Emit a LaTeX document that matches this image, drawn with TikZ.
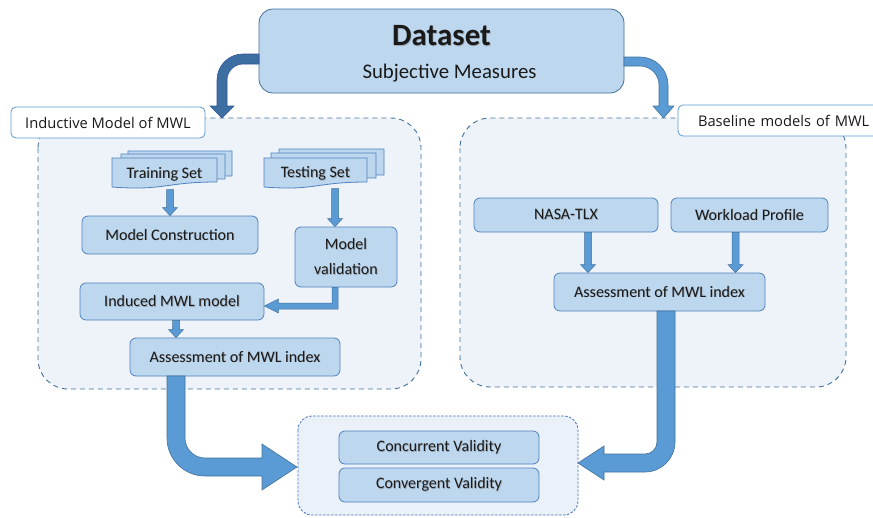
\documentclass[tikz,border=0pt]{standalone}
\usepackage{fontspec}
\setmainfont{Carlito}
\newfontfamily\labfont{Open Sans}
\usetikzlibrary{calc}

\definecolor{boxfill}{HTML}{BDD7EE}
\definecolor{boxline}{HTML}{4F81BD}
\definecolor{panelfill}{HTML}{EEF3FA}
\definecolor{panelline}{HTML}{41719C}
\definecolor{arrowfill}{HTML}{5B9BD5}
\definecolor{arrowline}{HTML}{41719C}
\definecolor{darkarrow}{HTML}{3E6FA3}
\definecolor{darkarrowline}{HTML}{2F5597}
\definecolor{txt}{HTML}{1A1A1A}
\definecolor{txtshadow}{HTML}{9AA7B4}
\definecolor{resultline}{HTML}{4472C4}
\definecolor{resultfill}{HTML}{EAF1F9}

% text with a soft drop shadow, as used on the box captions
\newcommand\shd[1]{\leavevmode\rlap{\kern0.7pt\raisebox{-0.7pt}{\textcolor{txtshadow}{#1}}}#1}

\tikzset{
  box/.style={draw=boxline, fill=boxfill, rounded corners=6pt, line width=0.8pt,
    text=txt, inner sep=0pt, font=\fontsize{16}{18}\selectfont, align=center},
  panel/.style={draw=panelline, fill=panelfill, line width=0.9pt,
    dash pattern=on 5pt off 4pt, rounded corners=30pt},
  resultpanel/.style={draw=resultline, fill=resultfill, line width=0.8pt,
    dash pattern=on 2.5pt off 1.5pt, rounded corners=14pt},
  tag/.style={draw=arrowfill, fill=white, rounded corners=5pt, line width=0.8pt,
    inner sep=0pt, text=txt, font=\labfont\fontsize{14.7}{16}\selectfont},
  sheet/.style={draw=boxline, fill=boxfill, line width=0.8pt},
  smallarrow/.style={fill=arrowfill, draw=arrowline, line width=0.5pt, line join=miter},
  bigarrow/.style={fill=arrowfill, draw=arrowline, line width=0.6pt},
  topleftarrow/.style={fill=darkarrow, draw=darkarrowline, line width=0.6pt},
  doclabel/.style={inner sep=0pt, text=txt, font=\fontsize{16}{18}\selectfont},
}

% one sheet of a document stack, with the wavy lower edge
\newcommand\docsheet[4]{%
  \path[sheet] (#1,#2) -- (#3,#2) -- (#3,#4)
    .. controls ({(#1+#3)/2},#4) and ({(#1+#3)/2},#4+9) .. (#1,#4+5) -- cycle;}

% narrow downward block arrow between two points (x taken from the first)
\newcommand\smalldown[2]{%
  \path[smallarrow] let \p1=(#1), \p2=(#2) in
    (\x1-3.5pt,\y1) -- (\x1+3.5pt,\y1) -- (\x1+3.5pt,\y2+8pt) -- (\x1+7.5pt,\y2+8pt)
    -- (\x1,\y2) -- (\x1-7.5pt,\y2+8pt) -- (\x1-3.5pt,\y2+8pt) -- cycle;}

\begin{document}
\begin{tikzpicture}[x=1pt,y=-1pt]
\useasboundingbox (0,0) rectangle (873,517);

% ---------- panels ----------
\path[panel] (38,118) rectangle (421,389);
\path[panel] (460,118) rectangle (846,387);
\path[resultpanel] (298,416) rectangle (578,515);

% ---------- dataset ----------
\node[box, rounded corners=14pt, draw=arrowline, minimum width=365pt, minimum height=84pt]
  (ds) at (441.5,51) {};
\node[doclabel, font=\bfseries\fontsize{31}{34}\selectfont] (dstitle) at (441.5,36) {\shd{Dataset}};
\node[doclabel, font=\fontsize{20.8}{24}\selectfont] (dssub) at (449.5,73) {Subjective Measures};

% curved arrows from the dataset to both panels
\path[topleftarrow] (259,54) -- (243,54) .. controls (228.6,54) and (217,65.6) .. (217,80)
  -- (217,106) -- (210,106) -- (222,118) -- (234,106) -- (227,106) -- (227,80)
  .. controls (227,71.2) and (234.2,64) .. (243,64) -- (259,64) -- cycle;
\path[bigarrow] (624,57) -- (640,57) .. controls (655.5,57) and (668,69.5) .. (668,85)
  -- (668,106) -- (674,106) -- (663.5,118) -- (653,106) -- (659,106) -- (659,85)
  .. controls (659,74.5) and (650.5,66) .. (640,66) -- (624,66) -- cycle;

% ---------- panel tags ----------
\node[tag, minimum width=194pt, minimum height=31pt] (tagl) at (108,122.5)
  {Inductive Model of MWL};
\node[tag, minimum width=204pt, minimum height=31pt, text width=190pt, align=left] (tagr)
  at (780,120.5) {\hspace{13pt}Baseline models of MWL};

% ---------- inductive model ----------
\docsheet{128}{151}{232}{176}
\docsheet{121}{154}{225}{179}
\docsheet{112}{158}{217}{182}
\node[doclabel, minimum width=105pt, minimum height=30pt] (train) at (164.5,174.5) {\shd{Training Set}};

\docsheet{279}{149}{384}{175}
\docsheet{271}{153}{376}{178}
\docsheet{264}{158}{367}{182}
\node[doclabel, minimum width=103pt, minimum height=30pt] (test) at (315.5,173.5) {\shd{Testing Set}};

\node[box, minimum width=176pt, minimum height=38pt] (mc) at (170,235) {\shd{Model Construction}};
\node[box, minimum width=184pt, minimum height=37pt] (ind) at (172,301.5) {\shd{Induced MWL model}};
\node[box, minimum width=102pt, minimum height=60pt, font=\fontsize{16}{25}\selectfont]
  (mv) at (346,257) {\shd{Model}\\\shd{validation}};
\node[box, minimum width=210pt, minimum height=38pt] (as1) at (235,357) {\shd{Assessment of MWL index}};

\smalldown{mc.north |- train.south}{mc.north}
\smalldown{[xshift=-11pt]mv.north |- test.south}{[xshift=-11pt]mv.north}
\smalldown{[xshift=4pt]ind.south}{[xshift=4pt]ind.south |- as1.north}
\path[smallarrow] let \p1=([xshift=-11pt]mv.south), \p2=([yshift=-4.5pt]ind.east) in
  (\x1-3pt,\y1) -- (\x1+3pt,\y1) -- (\x1+3pt,\y2-3pt) -- (\x2+14pt,\y2-3pt)
  -- (\x2+14pt,\y2-7pt) -- (\x2,\y2) -- (\x2+14pt,\y2+7pt) -- (\x2+14pt,\y2+3pt)
  -- (\x1-3pt,\y2+3pt) -- cycle;

% ---------- baseline models ----------
\node[box, minimum width=184pt, minimum height=34pt] (nasa) at (566,215) {\shd{NASA-TLX}};
\node[box, minimum width=157pt, minimum height=34pt] (wp) at (749.5,215) {\shd{Workload Profile}};
\node[box, minimum width=211pt, minimum height=38pt] (as2) at (659.5,292) {\shd{Assessment of MWL index}};

\smalldown{[xshift=22pt]nasa.south}{[xshift=22pt]nasa.south |- as2.north}
\smalldown{[xshift=-14pt]wp.south}{[xshift=-14pt]wp.south |- as2.north}

% ---------- validity ----------
\node[box, minimum width=200pt, minimum height=33pt] (cv1) at (439,447.5) {\shd{Concurrent Validity}};
\node[box, minimum width=200pt, minimum height=34pt] (cv2) at (439,485) {\shd{Convergent Validity}};

% wide bent arrows into the validity panel
\path[bigarrow] (167,376) -- (167,438) .. controls (167,459) and (184,476) .. (205,476)
  -- (262,476) -- (262,490) -- (297,467) -- (262,444) -- (262,458) -- (205,458)
  .. controls (194,458) and (185,449) .. (185,438) -- (185,376) -- cycle;
\path[bigarrow] (657,311) -- (657,442) .. controls (657,448.6) and (651.6,454) .. (645,454)
  -- (604,454) -- (604,446) -- (578,463) -- (604,480) -- (604,472) -- (645,472)
  .. controls (661.5,472) and (675,458.5) .. (675,442) -- (675,311) -- cycle;
\end{tikzpicture}
\end{document}
